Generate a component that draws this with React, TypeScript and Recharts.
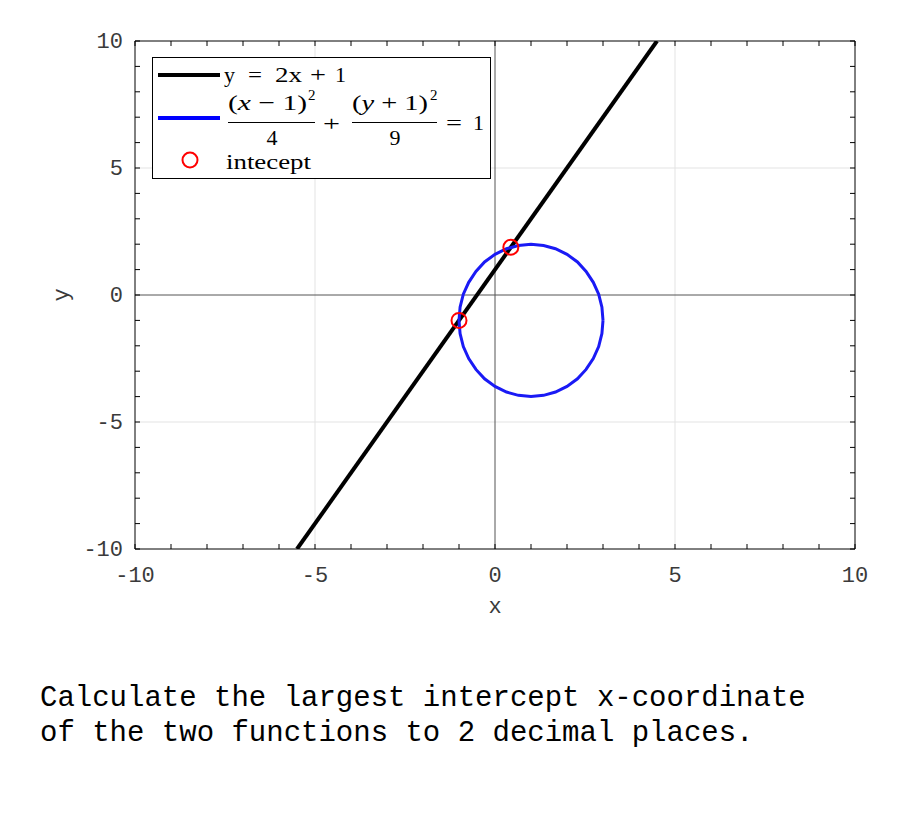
import React from 'react';
import { ComposedChart, Line, Scatter, XAxis, YAxis, ReferenceLine, Legend, Label } from 'recharts';

const MINOR_TICKS = [-10, -9, -8, -7, -6, -5, -4, -3, -2, -1, 0, 1, 2, 3, 4, 5, 6, 7, 8, 9, 10];
const MAJOR_TICKS = [-10, -5, 0, 5, 10];
const GRID_VALUES = [-5, 5];

// y = 2x + 1, clipped to the plot box
const LINE_X = [-5.5, 4.5];
const LINE_Y = [-10, 10];

// (x-1)^2/4 + (y+1)^2/9 = 1, points read round the curve
const ELLIPSE_X = [3, 2.97, 2.88, 2.73, 2.53, 2.29, 2.0, 1.68, 1.35, 1, 0.65, 0.32, 0.0, -0.29, -0.53, -0.73, -0.88, -0.97, -1,
  -0.97, -0.88, -0.73, -0.53, -0.29, 0.0, 0.32, 0.65, 1, 1.35, 1.68, 2.0, 2.29, 2.53, 2.73, 2.88, 2.97, 3];
const ELLIPSE_Y = [-1, -0.48, 0.03, 0.5, 0.93, 1.3, 1.6, 1.82, 1.95, 2, 1.95, 1.82, 1.6, 1.3, 0.93, 0.5, 0.03, -0.48, -1,
  -1.52, -2.03, -2.5, -2.93, -3.3, -3.6, -3.82, -3.95, -4, -3.95, -3.82, -3.6, -3.3, -2.93, -2.5, -2.03, -1.52, -1];

const INTERCEPT_X = [-1, 0.44];
const INTERCEPT_Y = [-1, 1.88];

const QUESTION = ['Calculate the largest intercept x-coordinate', 'of the two functions to 2 decimal places.'];

const lineData = LINE_X.map((x, i) => ({ x, y: LINE_Y[i] }));
const ellipseData = ELLIPSE_X.map((x, i) => ({ x, y: ELLIPSE_Y[i] }));
const interceptData = INTERCEPT_X.map((x, i) => ({ x, y: INTERCEPT_Y[i] }));

const MONO = '"Liberation Mono", "DejaVu Sans Mono", monospace';
const SERIF = '"Liberation Serif", "DejaVu Serif", serif';
const TICK_LEN = 5;
const LABEL_COLOR = '#3a3a3a';

const BottomTick = (props: any) => {
  const { x, y, payload } = props;
  const major = MAJOR_TICKS.includes(payload.value);
  return (
    <g>
      <line x1={x} y1={y} x2={x} y2={y - TICK_LEN} stroke="#000" />
      {major && (
        <text x={x} y={y + 33} textAnchor="middle" fontFamily={MONO} fontSize={22} fill={LABEL_COLOR}>
          {payload.value}
        </text>
      )}
    </g>
  );
};

const TopTick = (props: any) => {
  const { x, y } = props;
  return <line x1={x} y1={y} x2={x} y2={y + TICK_LEN} stroke="#000" />;
};

const LeftTick = (props: any) => {
  const { x, y, payload } = props;
  const major = MAJOR_TICKS.includes(payload.value);
  return (
    <g>
      <line x1={x} y1={y} x2={x + TICK_LEN} y2={y} stroke="#000" />
      {major && (
        <text x={x - 12} y={y + 7} textAnchor="end" fontFamily={MONO} fontSize={22} fill={LABEL_COLOR}>
          {payload.value}
        </text>
      )}
    </g>
  );
};

const RightTick = (props: any) => {
  const { x, y } = props;
  return <line x1={x} y1={y} x2={x - TICK_LEN} y2={y} stroke="#000" />;
};

const LegendBox = () => (
  <svg width={340} height={123} style={{ display: 'block' }}>
    <rect x={0.5} y={0.5} width={338} height={121} fill="#fff" stroke="#000" />
    {/* y = 2x + 1 */}
    <line x1={6} y1={18} x2={68} y2={18} stroke="#000" strokeWidth={4} />
    <g fontFamily={SERIF} fontSize={22} fill="#000">
      <text x={72} y={25}>y</text>
      <text x={96} y={25} textLength={14} lengthAdjust="spacingAndGlyphs">=</text>
      <text x={123} y={25} textLength={27} lengthAdjust="spacingAndGlyphs">2x</text>
      <text x={158} y={25} textLength={16} lengthAdjust="spacingAndGlyphs">+</text>
      <text x={183} y={25}>1</text>
    </g>
    {/* ellipse */}
    <line x1={6} y1={61} x2={68} y2={61} stroke="#0000ff" strokeWidth={4} />
    <g fontFamily={SERIF} fontSize={22} fill="#000">
      <text x={76} y={53} textLength={79} lengthAdjust="spacingAndGlyphs">
        (<tspan fontStyle="italic">x</tspan> − 1)
      </text>
      <text x={156} y={43} fontSize={15}>2</text>
      <line x1={76} y1={65.5} x2={163} y2={65.5} stroke="#000" strokeWidth={1.2} />
      <text x={120} y={87.5} textAnchor="middle">4</text>
      <text x={171} y={74} textLength={17} lengthAdjust="spacingAndGlyphs">+</text>
      <text x={200} y={53} textLength={76} lengthAdjust="spacingAndGlyphs">
        (<tspan fontStyle="italic">y</tspan> + 1)
      </text>
      <text x={278} y={43} fontSize={15}>2</text>
      <line x1={200} y1={65.5} x2={285} y2={65.5} stroke="#000" strokeWidth={1.2} />
      <text x={243} y={87.5} textAnchor="middle">9</text>
      <text x={294} y={73} textLength={16} lengthAdjust="spacingAndGlyphs">=</text>
      <text x={321} y={73}>1</text>
    </g>
    {/* intercept marker */}
    <circle cx={38} cy={103} r={7.5} fill="none" stroke="#ff0000" strokeWidth={2} />
    <text x={74} y={111.5} fontFamily={SERIF} fontSize={22} fill="#000" textLength={85} lengthAdjust="spacingAndGlyphs">
      intecept
    </text>
  </svg>
);

const RingDot = (props: any) => (
  <circle cx={props.cx} cy={props.cy} r={7.5} fill="none" stroke="#ff0000" strokeWidth={2} />
);

export default function App() {
  return (
    <div style={{ position: 'relative', width: 880, height: 809 }}>
      <ComposedChart width={880} height={620} margin={{ top: 32, right: 32, bottom: 0, left: 0 }}>
        <XAxis
          type="number"
          dataKey="x"
          domain={[-10, 10]}
          allowDataOverflow
          ticks={MINOR_TICKS}
          interval={0}
          tickSize={0}
          tickMargin={0}
          tick={<BottomTick />}
          height={79}
          axisLine={{ stroke: '#000' }}
        >
          <Label
            content={(p: any) => (
              <text
                x={p.viewBox.x + p.viewBox.width / 2}
                y={p.viewBox.y + 64}
                textAnchor="middle"
                fontFamily={MONO}
                fontSize={22}
                fill={LABEL_COLOR}
              >
                x
              </text>
            )}
          />
        </XAxis>
        <XAxis
          xAxisId="top"
          orientation="top"
          type="number"
          dataKey="x"
          domain={[-10, 10]}
          allowDataOverflow
          ticks={MINOR_TICKS}
          interval={0}
          tickSize={0}
          tickMargin={0}
          tick={<TopTick />}
          height={1}
          axisLine={{ stroke: '#000' }}
        />
        <YAxis
          type="number"
          dataKey="y"
          domain={[-10, 10]}
          allowDataOverflow
          ticks={MINOR_TICKS}
          interval={0}
          tickSize={0}
          tickMargin={0}
          tick={<LeftTick />}
          width={127}
          axisLine={{ stroke: '#000' }}
        >
          <Label
            content={(p: any) => {
              const cx = p.viewBox.x + 54;
              const cy = p.viewBox.y + p.viewBox.height / 2;
              return (
                <text
                  x={cx}
                  y={cy}
                  transform={`rotate(-90 ${cx} ${cy})`}
                  textAnchor="middle"
                  dominantBaseline="central"
                  fontFamily={MONO}
                  fontSize={22}
                  fill={LABEL_COLOR}
                >
                  y
                </text>
              );
            }}
          />
        </YAxis>
        <YAxis
          yAxisId="right"
          orientation="right"
          type="number"
          dataKey="y"
          domain={[-10, 10]}
          allowDataOverflow
          ticks={MINOR_TICKS}
          interval={0}
          tickSize={0}
          tickMargin={0}
          tick={<RightTick />}
          width={1}
          axisLine={{ stroke: '#000' }}
        />
        {GRID_VALUES.map((v) => (
          <ReferenceLine key={`gx${v}`} x={v} stroke="#e3e3e3" strokeWidth={1} />
        ))}
        {GRID_VALUES.map((v) => (
          <ReferenceLine key={`gy${v}`} y={v} stroke="#e3e3e3" strokeWidth={1} />
        ))}
        <ReferenceLine x={0} stroke="#555" strokeWidth={1} />
        <ReferenceLine y={0} stroke="#555" strokeWidth={1} />
        <Line
          data={lineData}
          dataKey="y"
          type="linear"
          stroke="#000"
          strokeWidth={4}
          dot={false}
          isAnimationActive={false}
        />
        <Line
          data={ellipseData}
          dataKey="y"
          type="linear"
          stroke="#1a1af5"
          strokeWidth={3}
          dot={false}
          isAnimationActive={false}
        />
        <Scatter data={interceptData} dataKey="y" shape={<RingDot />} isAnimationActive={false} />
        <Legend
          layout="horizontal"
          verticalAlign="middle"
          align="center"
          content={() => <LegendBox />}
          wrapperStyle={{ position: 'absolute', left: 144, top: 49, width: 340, height: 123 }}
        />
      </ComposedChart>
      <div
        style={{
          position: 'absolute',
          left: 32,
          top: 673,
          fontFamily: MONO,
          fontSize: 29,
          lineHeight: '35px',
          whiteSpace: 'pre',
          color: '#000',
        }}
      >
        {QUESTION.join('\n')}
      </div>
    </div>
  );
}
